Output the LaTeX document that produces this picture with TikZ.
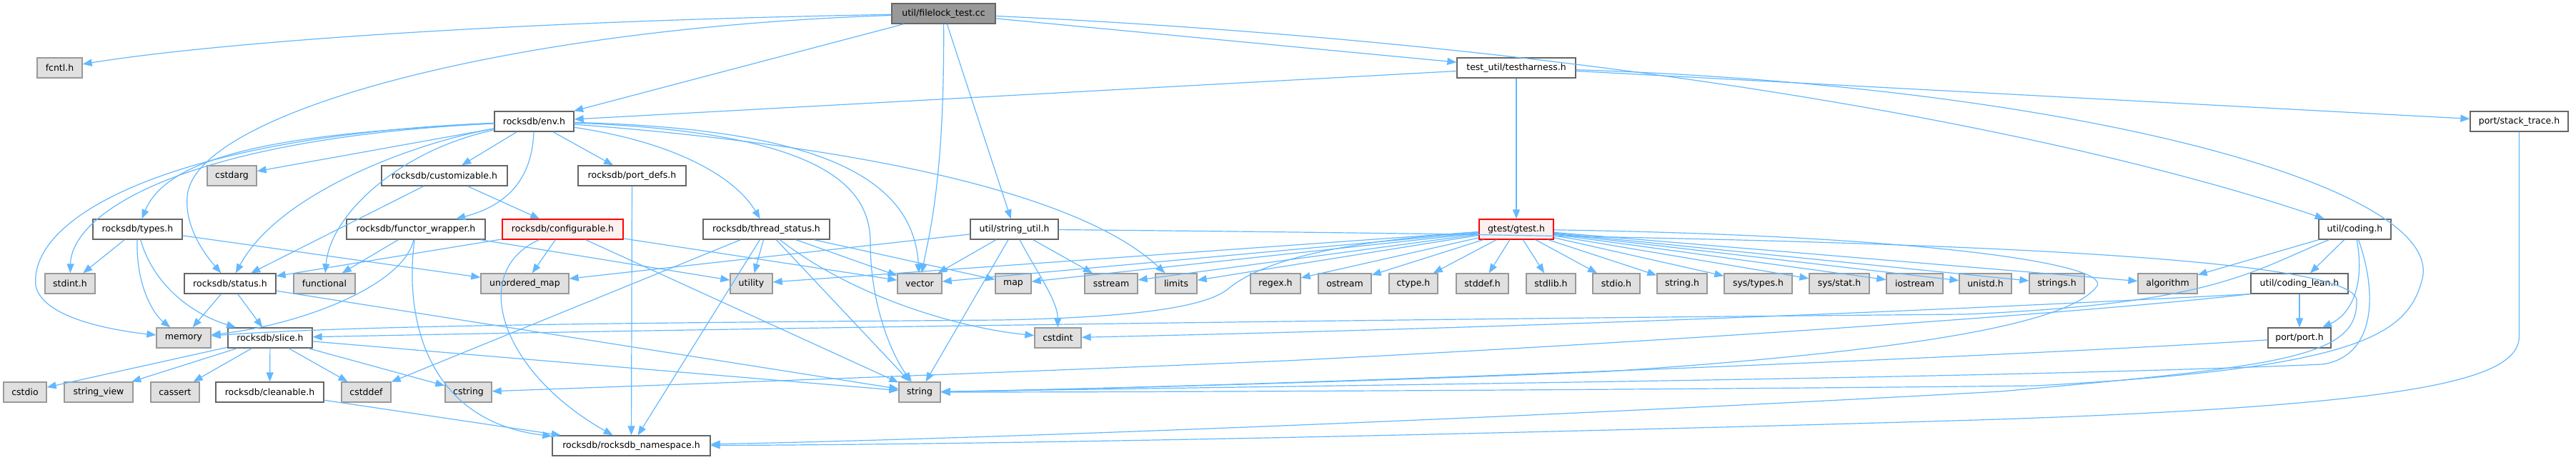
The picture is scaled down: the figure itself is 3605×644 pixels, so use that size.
\documentclass[tikz,border=0pt]{standalone}
\usepackage{fontspec}
\setmainfont{DejaVu Sans}
\usetikzlibrary{arrows.meta}
\definecolor{edgec}{HTML}{63B8FF}
\definecolor{sysf}{HTML}{E0E0E0}
\definecolor{sysb}{HTML}{999999}
\definecolor{wb}{HTML}{666666}
\definecolor{redf}{HTML}{FFF0F0}
\definecolor{redb}{HTML}{FF0000}
\definecolor{mainf}{HTML}{999999}
\tikzset{
  nd/.style={draw=wb, fill=white, line width=1.3pt, minimum height=28pt, inner sep=0pt, font=\fontsize{12.5}{15}\selectfont},
  sysnd/.style={nd, draw=sysb, fill=sysf},
  rednd/.style={nd, draw=redb, fill=redf},
  mainnd/.style={nd, draw=wb, fill=mainf},
  inc/.style={draw=edgec, line width=1.2pt, -{Triangle[length=13pt,width=10pt]}}
}
\begin{document}
\begin{tikzpicture}[x=1pt,y=-1pt]
\useasboundingbox (0,0) rectangle (3605,644);
% row 0
\node[mainnd, minimum width=145pt] (F) at (1320.5,19) {util/filelock\_test.cc};
% row 1
\node[sysnd, minimum width=63pt] (fcntl) at (83.5,95) {fcntl.h};
\node[nd, minimum width=166pt] (T) at (2122,95) {test\_util/testharness.h};
% row 2
\node[nd, minimum width=111pt] (E) at (747.5,170) {rocksdb/env.h};
\node[nd, minimum width=137pt] (stack) at (3525.5,170) {port/stack\_trace.h};
% row 3
\node[sysnd, minimum width=69pt] (cstdarg) at (324.5,246) {cstdarg};
\node[nd, minimum width=176pt] (custom) at (622,246) {rocksdb/customizable.h};
\node[nd, minimum width=151pt] (portdefs) at (884.5,246) {rocksdb/port\_defs.h};
% row 4
\node[nd, minimum width=125pt] (types) at (192.5,321) {rocksdb/types.h};
\node[nd, minimum width=194pt] (functor) at (582,321) {rocksdb/functor\_wrapper.h};
\node[rednd, minimum width=169pt] (config) at (787.5,321) {rocksdb/configurable.h};
\node[nd, minimum width=177pt] (thread) at (1072.5,321) {rocksdb/thread\_status.h};
\node[nd, minimum width=123pt] (SU) at (1419.5,321) {util/string\_util.h};
\node[rednd, minimum width=104pt] (gtest) at (2122,321) {gtest/gtest.h};
\node[nd, minimum width=101pt] (coding) at (3295.5,321) {util/coding.h};
% row 5
\node[sysnd, minimum width=70pt] (stdint) at (98,397) {stdint.h};
\node[nd, minimum width=128pt] (status) at (322,397) {rocksdb/status.h};
\node[sysnd, minimum width=86pt] (functional) at (454,397) {functional};
\node[sysnd, minimum width=123pt] (umap) at (734.5,397) {unordered\_map};
\node[sysnd, minimum width=59pt] (utility) at (1051.5,397) {utility};
\node[sysnd, minimum width=62pt] (vector) at (1287,397) {vector};
\node[sysnd, minimum width=50pt] (map) at (1418,397) {map};
\node[sysnd, minimum width=74pt] (sstream) at (1555,397) {sstream};
\node[sysnd, minimum width=58pt] (limits) at (1646,397) {limits};
\node[sysnd, minimum width=70pt] (regex) at (1785,397) {regex.h};
\node[sysnd, minimum width=74pt] (ostream) at (1882,397) {ostream};
\node[sysnd, minimum width=68pt] (ctype) at (1978,397) {ctype.h};
\node[sysnd, minimum width=73pt] (stddef) at (2074.5,397) {stddef.h};
\node[sysnd, minimum width=69pt] (stdlib) at (2170.5,397) {stdlib.h};
\node[sysnd, minimum width=66pt] (stdio) at (2262,397) {stdio.h};
\node[sysnd, minimum width=70pt] (stringh) at (2354,397) {string.h};
\node[sysnd, minimum width=95pt] (systypes) at (2460.5,397) {sys/types.h};
\node[sysnd, minimum width=84pt] (sysstat) at (2574,397) {sys/stat.h};
\node[sysnd, minimum width=79pt] (iostream) at (2679.5,397) {iostream};
\node[sysnd, minimum width=73pt] (unistd) at (2778.5,397) {unistd.h};
\node[sysnd, minimum width=77pt] (strings) at (2878.5,397) {strings.h};
\node[sysnd, minimum width=83pt] (algorithm) at (3033.5,397) {algorithm};
\node[nd, minimum width=136pt] (clean) at (3218,397) {util/coding\_lean.h};
% row 6
\node[sysnd, minimum width=76pt] (memory) at (257,473) {memory};
\node[nd, minimum width=118pt] (slice) at (378,473) {rocksdb/slice.h};
\node[sysnd, minimum width=65pt] (cstdint) at (1480.5,473) {cstdint};
\node[nd, minimum width=88pt] (port) at (3218,473) {port/port.h};
% row 7
\node[sysnd, minimum width=60pt] (cstdio) at (35,549) {cstdio};
\node[sysnd, minimum width=96pt] (sview) at (138,549) {string\_view};
\node[sysnd, minimum width=68pt] (cassert) at (245,549) {cassert};
\node[nd, minimum width=151pt] (cleanable) at (377.5,549) {rocksdb/cleanable.h};
\node[sysnd, minimum width=69pt] (cstddef) at (512.5,549) {cstddef};
\node[sysnd, minimum width=65pt] (cstring) at (655.5,549) {cstring};
\node[sysnd, minimum width=58pt] (string) at (1287,549) {string};
% row 8
\node[nd, minimum width=221pt] (ns) at (883.5,624) {rocksdb/rocksdb\_namespace.h};

% filelock_test.cc
\draw[inc] (F) .. controls (700,30) and (300,60) .. (fcntl);
\draw[inc] (F) -- (E);
\draw[inc] (F) .. controls (700,40) and (270,160) .. (262,275) .. controls (258,320) and (290,360) .. (status);
\draw[inc] (F) -- (T);
\draw[inc] (F) .. controls (2400,70) and (3000,220) .. (coding);
\draw[inc] (F) -- (SU);
\draw[inc] (F) .. controls (1322,250) and (1300,330) .. (vector);
% testharness
\draw[inc] (T) -- (E);
\draw[inc] (T) -- (gtest);
\draw[inc] (T) -- (stack);
\draw[inc] (T) .. controls (2900,120) and (3420,260) .. (3390,390) .. controls (3370,470) and (3300,515) .. (2850,540) .. controls (2300,546) and (1600,549) .. (string);
% stack trace
\draw[inc] (stack) -- (3525.5,470) .. controls (3525.5,530) and (3400,570) .. (2700,590) .. controls (2000,610) and (1400,622) .. (ns);
% env
\draw[inc] (E) -- (cstdarg);
\draw[inc] (E) -- (custom);
\draw[inc] (E) -- (portdefs);
\draw[inc] (E) .. controls (745,240) and (720,285) .. (functor);
\draw[inc] (E) .. controls (450,185) and (240,205) .. (types);
\draw[inc] (E) .. controls (250,195) and (100,300) .. (stdint);
\draw[inc] (E) .. controls (250,190) and (40,300) .. (50,400) .. controls (60,450) and (180,465) .. (memory);
\draw[inc] (E) .. controls (580,200) and (390,270) .. (status);
\draw[inc] (E) .. controls (560,210) and (462,300) .. (functional);
\draw[inc] (E) .. controls (950,200) and (1030,250) .. (thread);
\draw[inc] (E) .. controls (1150,185) and (1218,260) .. (1218,340) .. controls (1218,430) and (1250,500) .. (string);
\draw[inc] (E) .. controls (1150,180) and (1278,250) .. (vector);
\draw[inc] (E) .. controls (1150,200) and (1500,260) .. (limits);
% customizable
\draw[inc] (custom) -- (config);
\draw[inc] (custom) -- (status);
% configurable
\draw[inc] (config) -- (status);
\draw[inc] (config) -- (umap);
\draw[inc] (config) .. controls (655,380) and (700,520) .. (ns);
\draw[inc] (config) -- (vector);
\draw[inc] (config) -- (string);
% functor wrapper
\draw[inc] (functor) -- (functional);
\draw[inc] (functor) .. controls (565,400) and (420,455) .. (memory);
\draw[inc] (functor) .. controls (565,450) and (600,590) .. (ns);
\draw[inc] (functor) -- (utility);
% port defs
\draw[inc] (portdefs) -- (ns);
% types
\draw[inc] (types) -- (stdint);
\draw[inc] (types) .. controls (190,400) and (215,440) .. (memory);
\draw[inc] (types) .. controls (215,400) and (270,440) .. (slice);
\draw[inc] (types) -- (umap);
% status
\draw[inc] (status) -- (memory);
\draw[inc] (status) -- (slice);
\draw[inc] (status) -- (string);
% slice
\draw[inc] (slice) -- (cstdio);
\draw[inc] (slice) -- (sview);
\draw[inc] (slice) -- (cassert);
\draw[inc] (slice) -- (cleanable);
\draw[inc] (slice) -- (cstddef);
\draw[inc] (slice) -- (cstring);
\draw[inc] (slice) -- (string);
\draw[inc] (cleanable) -- (ns);
% thread status
\draw[inc] (thread) -- (cstddef);
\draw[inc] (thread) -- (ns);
\draw[inc] (thread) -- (utility);
\draw[inc] (thread) -- (string);
\draw[inc] (thread) .. controls (1200,420) and (1350,460) .. (cstdint);
\draw[inc] (thread) -- (vector);
\draw[inc] (thread) -- (map);
% string util
\draw[inc] (SU) -- (vector);
\draw[inc] (SU) -- (string);
\draw[inc] (SU) -- (sstream);
\draw[inc] (SU) .. controls (1450,380) and (1480,420) .. (cstdint);
\draw[inc] (SU) -- (umap);
\draw[inc] (SU) .. controls (2400,330) and (3290,345) .. (3298,420) .. controls (3300,500) and (3200,512) .. (2800,548) .. controls (2000,592) and (1300,616) .. (ns);
% gtest
\foreach \t in {utility,vector,map,sstream,limits,regex,ostream,ctype,stddef,stdlib,stdio,stringh,systypes,sysstat,iostream,unistd,strings,algorithm}
  \draw[inc] (gtest) -- (\t);
\draw[inc] (gtest) .. controls (1850,340) and (1760,370) .. (1718,405) .. controls (1680,435) and (1550,445) .. (1400,448) .. controls (900,452) and (500,455) .. (memory);
\draw[inc] (gtest) .. controls (2700,330) and (2950,370) .. (2935,400) .. controls (2900,450) and (2700,490) .. (2250,520) .. controls (1900,535) and (1500,545) .. (string);
% coding
\draw[inc] (coding) -- (algorithm);
\draw[inc] (coding) .. controls (3150,380) and (3100,425) .. (2750,440) .. controls (1800,448) and (900,462) .. (slice);
\draw[inc] (coding) -- (clean);
\draw[inc] (coding) .. controls (3310,400) and (3290,440) .. (port);
\draw[inc] (coding) .. controls (3330,420) and (3320,500) .. (3250,510) .. controls (2800,530) and (1800,540) .. (string);
% coding lean
\draw[inc] (clean) -- (port);
\draw[inc] (clean.south west) .. controls (2900,425) and (2300,455) .. (cstdint);
\draw[inc] (clean.south west) .. controls (2900,440) and (2300,480) .. (1800,505) .. controls (1400,522) and (900,540) .. (cstring);
% port
\draw[inc] (port) .. controls (2800,500) and (1800,540) .. (string);
\end{tikzpicture}
\end{document}
